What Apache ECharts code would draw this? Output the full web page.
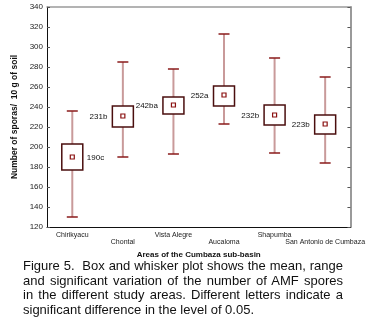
<!DOCTYPE html>
<html>
<head>
<meta charset="utf-8">
<script src="https://cdn.jsdelivr.net/npm/echarts@6/dist/echarts.min.js"></script>
<style>
  html, body { margin: 0; padding: 0; background: #fff; }
  #wrap { position: relative; width: 368px; height: 321px; }
  #chart { position: absolute; left: 0; top: 0; width: 368px; height: 321px; }
  #caption {
    position: absolute; left: 23px; top: 259px; width: 320px;
    font-family: "Liberation Sans", Arial, sans-serif; font-size: 13px;
    line-height: 14.5px; color: #111; text-align: justify;
  }
</style>
</head>
<body>
<div id="wrap">
  <div id="chart"></div>
  <div id="caption">Figure 5.&nbsp; Box and whisker plot shows the mean, range and significant variation of the number of AMF spores in the different study areas. Different letters indicate a significant difference in the level of 0.05.</div>
</div>
<script>
// areas and values
const categories = ['Chirikyacu', 'Chontal', 'Vista Alegre', 'Aucaloma', 'Shapumba', 'San Antonio de Cumbaza']
const minVals = [130, 190, 193, 223, 194, 184]
const lowVals = [177, 220, 233, 241, 222, 213]
const meanVals = [190, 231, 242, 252, 232, 223]
const highVals = [203, 241, 250, 261, 242, 232]
const maxVals = [236, 285, 278, 313, 289, 270]
const letters = ['190c', '231b', '242ba', '252a', '232b', '223b']
const yTicks = [120, 140, 160, 180, 200, 220, 240, 260, 280, 300, 320, 340]

const rows = categories.map((c, i) => [i, minVals[i], lowVals[i], meanVals[i], highVals[i], maxVals[i]])

const chart = echarts.init(document.getElementById('chart'))

const renderBox = (params, api) => {
  const i = api.value(0)
  const pMin = api.coord([i, api.value(1)])
  const pLow = api.coord([i, api.value(2)])
  const pMean = api.coord([i, api.value(3)])
  const pHigh = api.coord([i, api.value(4)])
  const pMax = api.coord([i, api.value(5)])
  const x = pMin[0]
  const bw = 21
  const cw = 11
  const wStyle = { stroke: '#c99a9a', lineWidth: 2 }
  const cStyle = { stroke: '#8a1a1a', lineWidth: 1.5 }
  const labelRight = i === 0
  return {
    type: 'group',
    children: [
      { type: 'line', shape: { x1: x, y1: pMax[1], x2: x, y2: pHigh[1] }, style: wStyle },
      { type: 'line', shape: { x1: x, y1: pLow[1], x2: x, y2: pMin[1] }, style: wStyle },
      { type: 'line', shape: { x1: x - cw / 2, y1: pMax[1], x2: x + cw / 2, y2: pMax[1] }, style: cStyle },
      { type: 'line', shape: { x1: x - cw / 2, y1: pMin[1], x2: x + cw / 2, y2: pMin[1] }, style: cStyle },
      {
        type: 'rect',
        shape: { x: x - bw / 2, y: pHigh[1], width: bw, height: pLow[1] - pHigh[1] },
        style: { fill: '#fff', stroke: '#4a0e0e', lineWidth: 1.5 },
      },
      {
        type: 'rect',
        shape: { x: x - 2, y: pMean[1] - 2, width: 4, height: 4 },
        style: { fill: '#fff', stroke: '#8a1010', lineWidth: 1.2 },
      },
      {
        type: 'text',
        x: labelRight ? x + bw / 2 + 4 : x - bw / 2 - 5,
        y: pMean[1] + 1,
        style: {
          text: letters[i],
          fill: '#111',
          font: '8px "Liberation Sans", Arial, sans-serif',
          align: labelRight ? 'left' : 'right',
          verticalAlign: 'middle',
        },
      },
    ],
  }
}

const option = {
  animation: false,
  grid: { left: 47, right: 17, top: 7, bottom: 94 },
  xAxis: [
    {
      type: 'category',
      data: categories,
      name: 'Areas of the Cumbaza sub-basin',
      nameLocation: 'middle',
      nameGap: 19,
      nameTextStyle: { fontSize: 8, fontWeight: 'bold', color: '#111', fontFamily: 'Liberation Sans' },
      axisLine: { lineStyle: { color: '#111', width: 1 } },
      axisTick: { inside: true, length: 3, alignWithLabel: true, lineStyle: { color: '#555' } },
      axisLabel: {
        interval: 0,
        fontSize: 7,
        color: '#222',
        fontFamily: 'Liberation Sans',
        margin: 5,
        lineHeight: 7,
        formatter: (v, i) => (i % 2 ? '\n' + v : v),
      },
      splitLine: { show: false },
    },
    {
      type: 'category',
      data: categories,
      position: 'top',
      axisLine: { lineStyle: { color: '#9a9a9a', width: 1.5 } },
      axisTick: { show: false },
      axisLabel: { show: false },
    },
  ],
  yAxis: [
    {
      type: 'value',
      min: yTicks[0],
      max: yTicks[yTicks.length - 1],
      interval: 20,
      name: 'Number of sporas/  10 g of soil',
      nameLocation: 'middle',
      nameGap: 27,
      nameTextStyle: { fontSize: 8.5, fontWeight: 'bold', color: '#111', fontFamily: 'Liberation Sans' },
      axisLine: { show: true, lineStyle: { color: '#111', width: 1 } },
      axisTick: { show: true, inside: true, length: 3, lineStyle: { color: '#555' } },
      axisLabel: { fontSize: 8, color: '#222', fontFamily: 'Liberation Sans', margin: 4 },
      splitLine: { show: false },
    },
    {
      type: 'value',
      min: yTicks[0],
      max: yTicks[yTicks.length - 1],
      interval: 20,
      position: 'right',
      axisLine: { show: true, lineStyle: { color: '#9a9a9a', width: 2 } },
      axisTick: { show: true, inside: true, length: 3, lineStyle: { color: '#555' } },
      axisLabel: { show: false },
      splitLine: { show: false },
    },
  ],
  series: [
    {
      type: 'custom',
      renderItem: renderBox,
      encode: { x: 0, y: [1, 2, 3, 4, 5] },
      data: rows,
      z: 10,
    },
  ],
}

chart.setOption(option)
</script>
</body>
</html>
